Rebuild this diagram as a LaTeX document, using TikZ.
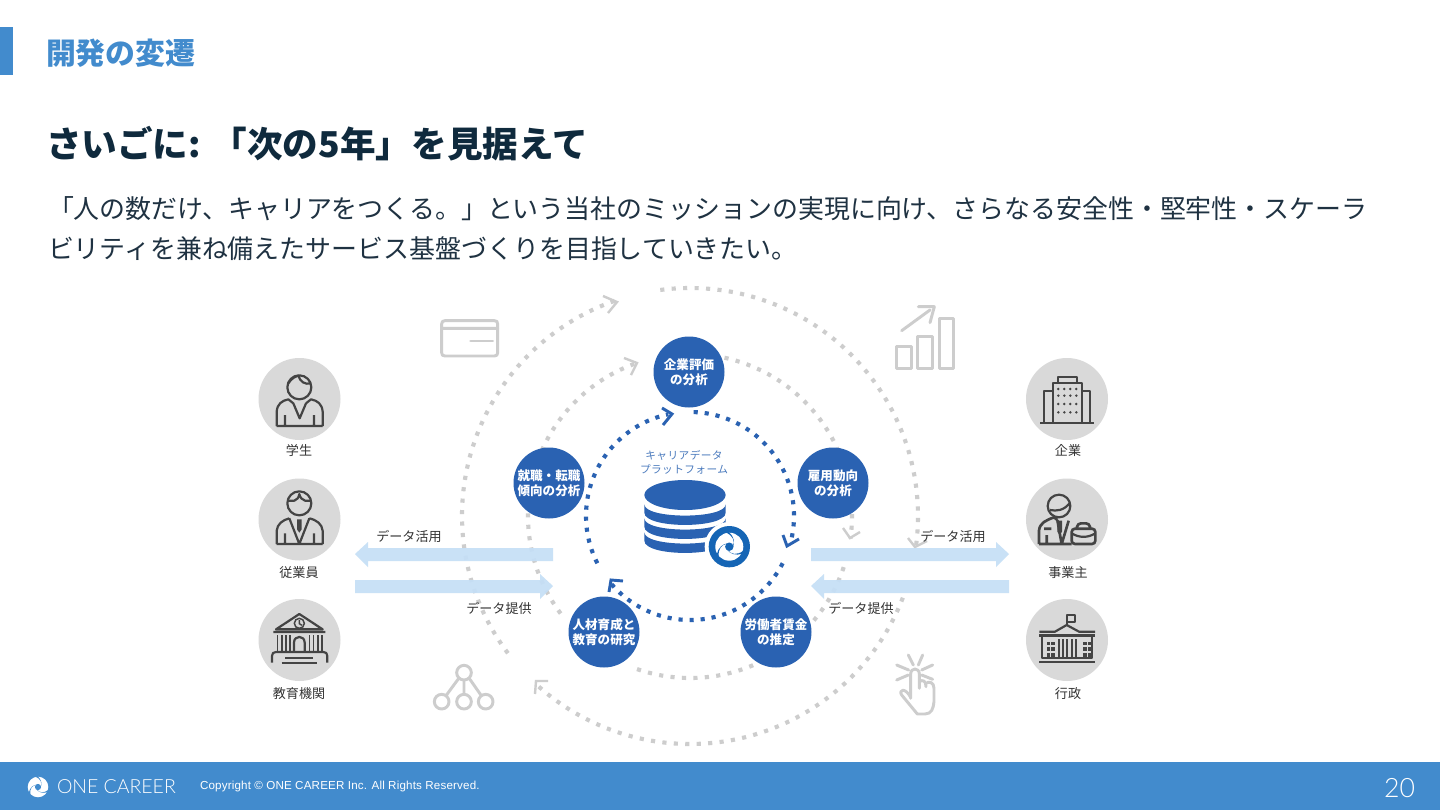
\documentclass[tikz,border=0pt]{standalone}
\usepackage{fontspec}
\setmainfont{Noto Sans CJK JP}
\newfontfamily\latinfont[LetterSpace=1.5]{Liberation Sans}
\newfontfamily\logofont{Lato Light}
\newfontfamily\pagefont{Lato Light}
\definecolor{brandblue}{HTML}{428BCD}
\definecolor{discblue}{HTML}{2A62B2}
\definecolor{badgeblue}{HTML}{1565B5}
\definecolor{barblue}{HTML}{C5DFF6}
\definecolor{ringgrey}{HTML}{CDCDCD}
\definecolor{avatargrey}{HTML}{D9D9D9}
\definecolor{iconink}{HTML}{444444}
\definecolor{headink}{HTML}{0F2A3D}
\definecolor{bodyink}{HTML}{1F3242}
\definecolor{labelink}{HTML}{333333}
\newcommand{\fsz}[1]{\fontsize{#1}{#1}\selectfont}
\tikzset{
  plain/.style={inner sep=0pt,outer sep=0pt},
  txt/.style={plain,anchor=west},
  disc/.style={circle,fill=discblue,minimum size=53.25pt,plain,text=white,align=center,font=\fontsize{9.4pt}{11.4pt}\selectfont\bfseries},
  disctext/.style={yshift=-.75pt},
  avatar/.style={circle,fill=avatargrey,minimum size=61.5pt,plain},
  lab/.style={plain,text=labelink,font=\fsz{9.8pt}},
  greyarc/.style={draw=ringgrey,line width=3.1pt,dash pattern=on 3.1pt off 5.5pt},
  bluearc/.style={draw=discblue,line width=3.1pt,dash pattern=on 3.1pt off 5.2pt},
  greychev/.style={draw=ringgrey,line width=1.8pt},
  bluechev/.style={draw=discblue,line width=2.2pt},
  fatbar/.style={fill=barblue,fill opacity=.93,draw=none},
  ink/.style={draw=iconink,line width=1.65pt,line join=round},
  inkthin/.style={draw=iconink,line width=1.1pt},
  faint/.style={draw=ringgrey,line width=2.2pt,line join=round,line cap=round},
  z1/.style={shift={(240,340)},x=.25pt,y=-.25pt},
  z2/.style={shift={(560,320)},x=.25pt,y=-.25pt},
  z3/.style={shift={(880,290)},x=.25pt,y=-.25pt},
  z5/.style={shift={(420,280)},x=.25pt,y=-.25pt},
  z6/.style={shift={(420,640)},x=.25pt,y=-.25pt},
}
\newcommand{\ringarc}[4]{%
  \draw[#1] plot[domain=#3:#4,samples=120] ({690+#2*cos(\x)},{516-#2*sin(\x)});}
\newcommand{\swirl}[2]{%
  \fill[#1] (0,0) circle (1);
  \foreach \ang in {20,140,260}{%
    \fill[#2,rotate=\ang] (-10:.26) .. controls (20:.55) and (50:.85) .. (85:1.06)
      -- (72:1.06) .. controls (45:.8) and (15:.52) .. (-30:.26) -- cycle;}
  \fill[#2] (0,0) circle (.3);}
\begin{document}
\begin{tikzpicture}[x=.75pt,y=-.75pt]
\useasboundingbox (0,0) rectangle (1440,810);
\fill[white] (0,0) rectangle (1440,810);
% header
\fill[brandblue] (0,27) rectangle (13,75);
\node[txt,text=brandblue,font=\fsz{22.4pt}\bfseries] (section) at (46,53) {開発の変遷};
\node[txt,text=headink,font=\fsz{26.7pt}\bfseries] (headline) at (46,144) {さいごに: 「次の5年」を見据えて};
\node[txt,text=bodyink,font=\fsz{19.45pt}] (bodya) at (48,208.7) {「人の数だけ、キャリアをつくる。」という当社のミッションの実現に向け、さらなる安全性・堅牢性・スケーラ};
\node[txt,text=bodyink,font=\fsz{19.45pt}] (bodyb) at (48,248.7) {ビリティを兼ね備えたサービス基盤づくりを目指していきたい。};
% outer ring
\ringarc{greyarc}{228}{217}{109}
\ringarc{greyarc}{228}{97.5}{-8}
\ringarc{greyarc}{228}{-21}{-132}
\draw[greychev] (603,296) -- (617,302) -- (608,313);
\draw[greychev] (908,538) -- (915,547) -- (927,541);
\draw[greychev] (535,694) -- (536,681) -- (548,681);
% middle ring
\ringarc{greyarc}{162}{77.7}{-8}
\ringarc{greyarc}{162}{-18.4}{-111}
\ringarc{greyarc}{162}{217}{109}
\draw[greychev] (624,358) -- (637,363) -- (631,375);
\draw[greychev] (843,528) -- (850,538) -- (860,532);
% inner ring
\ringarc{bluearc}{104}{88}{-15}
\ringarc{bluearc}{104}{-27}{-139}
\ringarc{bluearc}{104}{207}{102}
\draw[bluechev] (783,535) -- (787,546) -- (799,539);
\draw[bluechev] (609,592) -- (611,580) -- (623,581);
\draw[bluechev] (662,408) -- (672,414) -- (663,425);
% discs
\node[disc] (firm) at (689,372) {\raisebox{-.75pt}{企業評価}\\\raisebox{-.75pt}{の分析}};
\node[disc] (employ) at (833,483) {\raisebox{-.75pt}{雇用動向}\\\raisebox{-.75pt}{の分析}};
\node[disc] (wage) at (776,632) {\raisebox{-.75pt}{労働者賃金}\\\raisebox{-.75pt}{の推定}};
\node[disc] (edu) at (604,632) {\raisebox{-.75pt}{人材育成と}\\\raisebox{-.75pt}{教育の研究}};
\node[disc] (job) at (549,483) {\raisebox{-.75pt}{就職・転職}\\\raisebox{-.75pt}{傾向の分析}};
% bars
\fill[fatbar] (355,554) -- (368,542) -- (368,548) -- (553,548) -- (553,561) -- (368,561) -- (368,567) -- cycle;
\fill[fatbar] (553,586) -- (540,574) -- (540,580) -- (355,580) -- (355,593) -- (540,593) -- (540,599) -- cycle;
\fill[fatbar] (1009,554) -- (996,542) -- (996,548) -- (811,548) -- (811,561) -- (996,561) -- (996,567) -- cycle;
\fill[fatbar] (811,586) -- (824,574) -- (824,580) -- (1009,580) -- (1009,593) -- (824,593) -- (824,599) -- cycle;
\node[lab] (usea) at (409,536) {データ活用};
\node[lab] (givea) at (499,608) {データ提供};
\node[lab] (useb) at (953,536) {データ活用};
\node[lab] (giveb) at (861,608) {データ提供};
% platform
\node[plain,text=discblue!85!white,font=\fsz{8pt}] (plata) at (684,455) {\addfontfeature{LetterSpace=4}キャリアデータ};
\node[plain,text=discblue!85!white,font=\fsz{8pt}] (platb) at (684,469) {\addfontfeature{LetterSpace=4}プラットフォーム};
\begin{scope}[z2]
  \fill[discblue] (375,525) ellipse (122 and 45);
  \foreach \d in {0,42,84}{
    \fill[discblue] (253,{553+\d}) .. controls (253,{598+\d}) and (497,{598+\d}) .. (497,{553+\d})
      -- (497,{578+\d}) .. controls (497,{627+\d}) and (253,{627+\d}) .. (253,{578+\d}) -- cycle;
  }
  \node[circle,fill=white,minimum size=37pt,plain] (badgering) at (508,680) {};
  \node[circle,fill=badgeblue,minimum size=31pt,plain] (badge) at (508,680) {};
\end{scope}
\begin{scope}[shift={(729.3,546.7)},x=10.5pt,y=10.5pt]
  \swirl{white}{badgeblue}
\end{scope}
% avatars
\node[avatar] (student) at (299.5,399) {};
\node[avatar] (worker) at (299.5,519.5) {};
\node[avatar] (school) at (299.5,640) {};
\node[lab] at (299,451) (lstudent) {学生};
\node[lab] at (299,573) (lworker) {従業員};
\node[lab] at (299,694) (lschool) {教育機関};
\node[avatar] (company) at (1067,399) {};
\node[avatar] (owner) at (1067,519.5) {};
\node[avatar] (gov) at (1067,640) {};
\node[lab] at (1068,451) (lcompany) {企業};
\node[lab] at (1068,573) (lowner) {事業主};
\node[lab] at (1068,694) (lgov) {行政};
\begin{scope}[z1]
  % student
  \draw[ink] (178,142) circle (36);
  \draw[ink] (145,130) .. controls (155,115) and (165,110) .. (175,107) .. controls (180,125) and (195,135) .. (213,130);
  \draw[ink] (110,258) -- (110,215) .. controls (112,192) and (125,182) .. (145,178) -- (160,190)
     (248,258) -- (248,215) .. controls (246,192) and (233,182) .. (213,178) -- (198,190)
     (110,258) -- (248,258) (135,258) -- (135,225) (222,258) -- (222,225)
     (160,190) -- (179,235) -- (198,190);
  % worker
  \draw[ink] (178,490) circle (36);
  \draw[ink] (143,482) -- (163,482) .. controls (172,480) and (176,472) .. (178,462) .. controls (180,472) and (186,480) .. (195,482) -- (213,482);
  \draw[ink] (110,612) -- (110,572) .. controls (112,552) and (128,540) .. (148,535)
     (248,612) -- (248,572) .. controls (246,552) and (230,540) .. (208,535)
     (110,612) -- (248,612) (135,612) -- (135,580) (222,612) -- (222,580)
     (148,535) -- (178,612) -- (208,535);
  \fill[iconink] (171,538) -- (185,538) -- (185,568) -- (178,578) -- (171,568) -- cycle;
  % school
  \draw[ink] (108,868) -- (178,822) -- (248,868) -- cycle (100,876) -- (256,876);
  \draw[inkthin] (178,850) circle (15) (178,840) -- (178,851) -- (186,856);
  \foreach \cx in {112,125,138,150,208,220,233,245}{\draw[ink,line width=1.25pt] (\cx,885) -- (\cx,935);}
  \draw[ink] (162,935) -- (162,908) .. controls (162,885) and (194,885) .. (194,908) -- (194,935);
  \draw[ink] (96,968) -- (96,948) .. controls (96,940) and (100,936) .. (108,936) -- (250,936) .. controls (258,936) and (262,940) .. (262,948) -- (262,968);
  \draw[ink] (135,953) -- (220,953) (125,968) -- (232,968);
\end{scope}
\begin{scope}[z3]
  % company
  \draw[ink] (518,400) -- (518,278) -- (605,278) -- (605,400)
    (533,278) -- (533,260) -- (590,260) -- (590,278)
    (518,302) -- (493,302) -- (493,400) (605,302) -- (630,302) -- (630,400)
    (480,400) -- (642,400);
  \foreach \cx in {535,553,571,589}{\foreach \cy in {297,317,342,367}{\fill[iconink] (\cx,\cy) circle (4.2);}}
  % owner
  \draw[ink] (537,648) circle (34);
  \draw[ink] (510,660) .. controls (530,664) and (552,662) .. (570,638);
  \draw[ink,line width=2pt] (477,762) -- (477,722) .. controls (479,698) and (500,690) .. (522,682) -- (532,690)
    (477,762) -- (575,762) (500,762) -- (500,735)
    (492,716) -- (514,716)
    (532,690) -- (545,762) -- (566,692);
  \fill[iconink] (532,692) -- (546,692) -- (546,725) -- (539,735) -- (532,725) -- cycle;
  \draw[draw=iconink,line width=2pt,rounded corners=2.5pt,fill=avatargrey] (575,716) rectangle (646,762) (590,716) -- (593,700) -- (628,700) -- (631,716);
  \draw[ink] (575,730) .. controls (598,744) and (623,744) .. (646,730);
  % government
  \draw[ink] (560,1005) -- (560,975) -- (585,975) -- (585,995) -- (560,995);
  \draw[ink] (478,1025) -- (525,1025) -- (560,1005) -- (597,1025) -- (645,1025);
  \draw[ink,line width=2pt] (478,1037) -- (645,1037) (478,1116) -- (645,1116);
  \draw[ink] (486,1037) -- (486,1104) -- (637,1104) -- (637,1037);
  \foreach \cx in {536,549,562,575,588}{\draw[ink] (\cx,1047) -- (\cx,1100);}
  \foreach \cx in {500,514,610,624}{\foreach \cy in {1055,1072,1090}{\fill[iconink] (\cx,\cy) rectangle ++(10,10);}}
  % chart
  \draw[faint] (65,122) -- (150,60) (115,50) -- (163,50) -- (150,98);
  \draw[faint] (50,170) rectangle (95,235) (112,140) rectangle (158,235) (178,85) rectangle (220,235);
  % tap
  \draw[faint] (85,1095) -- (100,1125) (128,1095) -- (115,1125) (50,1125) -- (86,1140) (158,1125) -- (125,1140) (50,1170) -- (85,1155) (158,1168) -- (125,1155);
  \draw[faint] (92,1225) -- (92,1152) .. controls (92,1132) and (118,1132) .. (118,1152) -- (118,1195)
    (118,1175) .. controls (128,1168) and (138,1172) .. (138,1190)
    (138,1180) .. controls (148,1172) and (162,1178) .. (162,1195) -- (162,1235) .. controls (160,1255) and (155,1272) .. (135,1272)
    -- (112,1272) -- (65,1215) .. controls (55,1200) and (75,1190) .. (92,1222);
\end{scope}
\begin{scope}[z5]
  \draw[faint] (65,145) -- (65,132) .. controls (65,125) and (68,122) .. (75,122) -- (223,122) .. controls (230,122) and (233,125) .. (233,132) -- (233,145) -- cycle;
  \draw[faint] (65,145) -- (65,218) .. controls (65,225) and (68,228) .. (75,228) -- (223,228) .. controls (230,228) and (233,225) .. (233,218) -- (233,145);
  \draw[faint] (152,183) -- (218,183);
\end{scope}
\begin{scope}[z6]
  \draw[faint] (132,98) circle (22) (65,185) circle (22) (132,185) circle (22) (197,185) circle (22)
    (132,120) -- (132,163) (117,114) -- (78,167) (147,114) -- (184,167);
\end{scope}
% footer
\fill[brandblue] (0,762) rectangle (1440,810);
\begin{scope}[shift={(38,787)},x=7.7pt,y=7.7pt]
  \swirl{white}{brandblue}
\end{scope}
\node[txt,text=white,font=\logofont\fsz{14.6pt}] (logo) at (57,787) {ONE CAREER};
\node[txt,text=white,font=\latinfont\fsz{8.7pt}] (copy) at (200,786) {Copyright © ONE CAREER Inc. All Rights Reserved.};
\node[plain,anchor=east,text=white,font=\pagefont\fsz{20pt}] (page) at (1415,788) {20};
\end{tikzpicture}
\end{document}
